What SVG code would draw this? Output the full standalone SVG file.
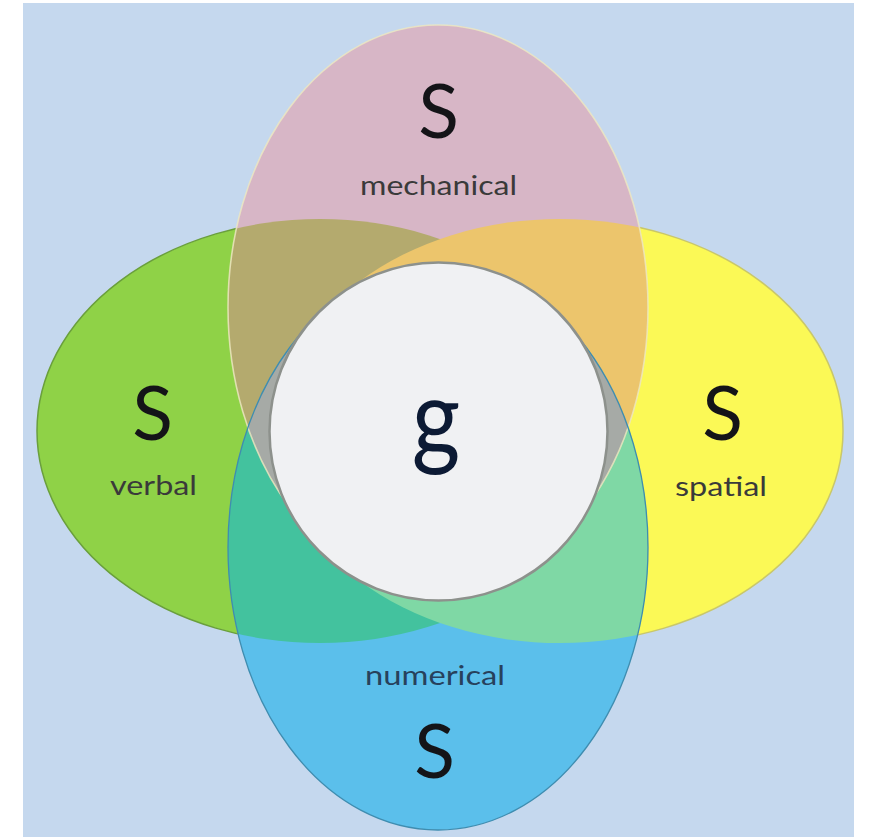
<svg xmlns="http://www.w3.org/2000/svg" xmlns:xlink="http://www.w3.org/1999/xlink" width="869" height="837" viewBox="0 0 869 837">
  <style>
    .big { font-family: Lato, "Open Sans", "Liberation Sans", sans-serif; font-size: 75px; fill: #141418; text-anchor: middle; }
    .lbl { font-family: Lato, "Open Sans", "Liberation Sans", sans-serif; font-size: 27px; fill: #3a3a3a; }
    .g { font-family: Lato, "Open Sans", "Liberation Sans", sans-serif; font-size: 106px; fill: #0c1a34; text-anchor: middle; }
  </style>
  <defs>
    <ellipse id="eG" cx="320" cy="431" rx="283" ry="212"/>
    <ellipse id="eY" cx="560" cy="431" rx="283" ry="212"/>
    <ellipse id="eP" cx="438" cy="307.5" rx="210" ry="282.5"/>
    <ellipse id="eB" cx="438" cy="547.5" rx="210" ry="282.5"/>
    <clipPath id="cP"><ellipse cx="438" cy="307.5" rx="210" ry="282.5"/></clipPath>
    <clipPath id="cB"><ellipse cx="438" cy="547.5" rx="210" ry="282.5"/></clipPath>
  </defs>

  <rect x="0" y="0" width="869" height="837" fill="#ffffff"/>
  <rect x="23" y="3" width="831" height="834" fill="#c5d8ee"/>

  <g id="verbal">
    <use xlink:href="#eG" fill="#8fd247" stroke="#6a9f3c" stroke-width="1.5"/>
  </g>
  <g id="spatial">
    <use xlink:href="#eY" fill="#fbf956" stroke="#c9c76a" stroke-width="1.5"/>
  </g>
  <g id="mechanical">
    <use xlink:href="#eP" fill="#d7b6c6"/>
  </g>
  <g id="numerical">
    <use xlink:href="#eB" fill="#5bbfeb"/>
  </g>

  <g id="overlaps">
    <use xlink:href="#eG" fill="#b4aa6e" clip-path="url(#cP)"/>
    <use xlink:href="#eY" fill="#ecc56c" clip-path="url(#cP)"/>
    <use xlink:href="#eG" fill="#43c29e" clip-path="url(#cB)"/>
    <use xlink:href="#eY" fill="#7fd8a5" clip-path="url(#cB)"/>
    <use xlink:href="#eP" fill="#a6aaa6" clip-path="url(#cB)"/>
  </g>

  <g id="outlines" fill="none">
    <use xlink:href="#eP" stroke="#eee9c0" stroke-width="1.6" opacity="0.8"/>
    <use xlink:href="#eB" stroke="#3f8db0" stroke-width="1.3"/>
  </g>

  <g id="connectors"/>

  <g id="general">
    <circle cx="438.5" cy="431.5" r="169" fill="#f0f1f3" stroke="#8d918c" stroke-width="2.5"/>
    <text class="g" transform="translate(436 455) scale(0.88 1)" x="0" y="0">g</text>
  </g>

  <g id="labels">
    <text class="big" x="438.5" y="138">S</text>
    <text class="lbl" x="360" y="195" textLength="157" lengthAdjust="spacingAndGlyphs">mechanical</text>
    <text class="big" x="152.5" y="440">S</text>
    <text class="lbl" x="110" y="495" textLength="87" lengthAdjust="spacingAndGlyphs">verbal</text>
    <text class="big" x="722.5" y="440">S</text>
    <text class="lbl" x="675" y="496" textLength="92" lengthAdjust="spacingAndGlyphs">spatial</text>
    <text class="lbl" x="365" y="685" textLength="140" lengthAdjust="spacingAndGlyphs" style="fill:#27415c">numerical</text>
    <text class="big" x="434.5" y="778">S</text>
  </g>
</svg>
